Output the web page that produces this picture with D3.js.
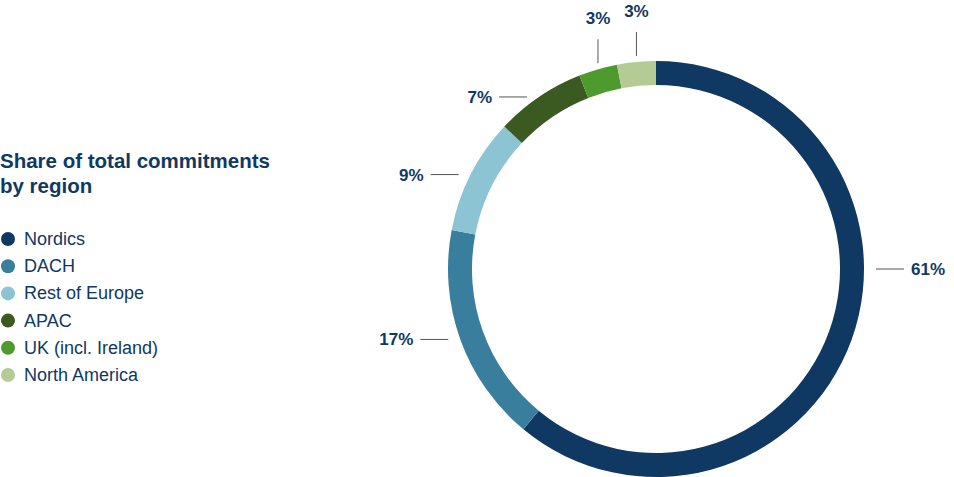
<!DOCTYPE html>
<html><head><meta charset="utf-8">
<script src="https://cdn.jsdelivr.net/npm/d3@7"></script>
<style>body{margin:0;background:#fff;font-family:"Liberation Sans",Arial,sans-serif}</style>
</head><body><svg id="c" width="954" height="477"></svg>
<script>
const categories = ["Nordics","DACH","Rest of Europe","APAC","UK (incl. Ireland)","North America"];
const values = [61,17,9,7,3,3];
const colors = ["#0f3862","#3a7e9e","#8cc4d4","#3b5a22","#4f9a2e","#b5cb96"];
const title = ["Share of total commitments","by region"];

const svg = d3.select("#c");
const cx=656, cy=269, R=208, r=184;
const pie = d3.pie().sort(null).value(d=>d)(values);
const arc = d3.arc().innerRadius(r).outerRadius(R);
const g = svg.append("g").attr("transform",`translate(${cx},${cy})`);
g.selectAll("path").data(pie).join("path").attr("d",arc).attr("fill",(d,i)=>colors[i]);

const lc="#0f3862", ln="#555";
const maxV = d3.max(values);
pie.forEach((d,i)=>{
  const a=(d.startAngle+d.endAngle)/2;
  const s=Math.sin(a), c=Math.cos(a);
  const txt=d.data+"%";
  if (Math.abs(c)>0.9 && d.data<maxV){
    const x=s*R;
    const top=-Math.sqrt(R*R-x*x);
    g.append("line").attr("x1",x).attr("x2",x).attr("y1",top-6).attr("y2",top-30).attr("stroke",ln);
    g.append("text").attr("x",x).attr("y",top-45).attr("text-anchor","middle").attr("font-size",17).attr("font-weight","bold").attr("fill",lc).text(txt);
  } else {
    const y = d.data===maxV ? 0 : -c*R;
    const dx=Math.sqrt(Math.max(0,R*R-y*y))*(s>=0?1:-1);
    const dir=s>=0?1:-1;
    const x1=dx+dir*12, x2=x1+dir*28;
    g.append("line").attr("x1",x1).attr("x2",x2).attr("y1",y).attr("y2",y).attr("stroke",ln);
    g.append("text").attr("x",x2+dir*7).attr("y",y+6).attr("text-anchor",dir>0?"start":"end").attr("font-size",17).attr("font-weight","bold").attr("fill",lc).text(txt);
  }
});

const lg=svg.append("g");
lg.selectAll("text.t").data(title).join("text").attr("x",0).attr("y",(d,i)=>168+i*25).attr("font-size",20.5).attr("font-weight","bold").attr("fill",lc).text(d=>d);
const y0=239, step=27.2;
lg.selectAll("circle").data(categories).join("circle").attr("cx",8).attr("cy",(d,i)=>y0+i*step).attr("r",7).attr("fill",(d,i)=>colors[i]);
lg.selectAll("text.l").data(categories).join("text").attr("class","l").attr("x",24).attr("y",(d,i)=>y0+i*step+6).attr("font-size",18).attr("fill",lc).text(d=>d);
</script></body></html>
